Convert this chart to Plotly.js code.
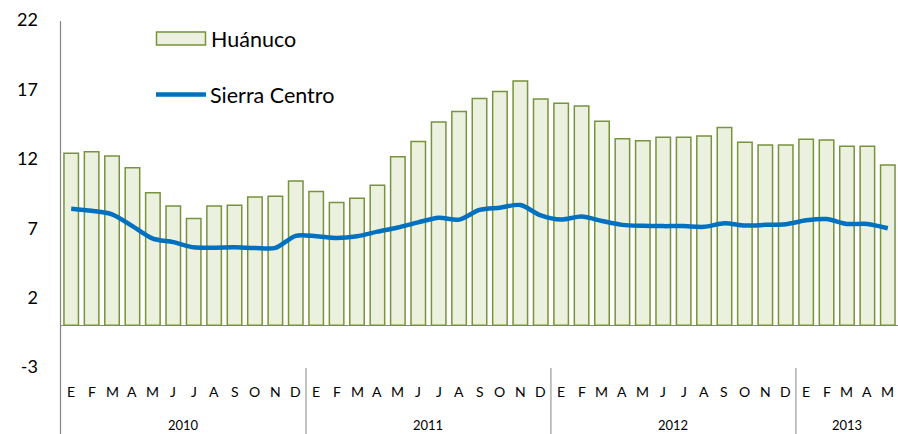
<!DOCTYPE html>
<html>
<head>
<meta charset="utf-8">
<script src="https://cdn.plot.ly/plotly-3.0.1.min.js"></script>
<style>html,body{margin:0;padding:0;background:#fff;}#chart{width:898px;height:434px;}</style>
</head>
<body>
<div id="chart"></div>
<script>
const monthLabels = ["E","F","M","A","M","J","J","A","S","O","N","D",
                     "E","F","M","A","M","J","J","A","S","O","N","D",
                     "E","F","M","A","M","J","J","A","S","O","N","D",
                     "E","F","M","A","M"];
const years = ["2010","2011","2012","2013"];
const monthsPerYear = [12, 12, 12, 5];
const huanuco = [12.4, 12.5, 12.2, 11.35, 9.55, 8.6, 7.7, 8.6, 8.65, 9.25, 9.3, 10.4,
                 9.65, 8.85, 9.15, 10.1, 12.15, 13.25, 14.65, 15.4, 16.35, 16.85, 17.6, 16.3,
                 16.0, 15.8, 14.7, 13.45, 13.3, 13.55, 13.55, 13.65, 14.25, 13.2, 13.0, 13.0,
                 13.4, 13.35, 12.9, 12.9, 11.55];
const sierraCentro = [8.4, 8.25, 8.0, 7.15, 6.25, 6.0, 5.62, 5.6, 5.62, 5.58, 5.58, 6.45,
                      6.42, 6.3, 6.42, 6.75, 7.05, 7.42, 7.75, 7.62, 8.32, 8.48, 8.67, 7.92,
                      7.62, 7.84, 7.52, 7.24, 7.17, 7.15, 7.15, 7.1, 7.35, 7.19, 7.24, 7.29,
                      7.57, 7.66, 7.31, 7.31, 7.0];
const yTicks = [-3, 2, 7, 12, 17, 22];

const xIdx = monthLabels.map((_, i) => i);

const traces = [
  {
    type: 'bar', name: 'Huánuco', x: xIdx, y: huanuco,
    marker: {color: '#EBF1DE', line: {color: '#77933C', width: 1.5}},
    hoverinfo: 'y'
  },
  {
    type: 'scatter', mode: 'lines', name: 'Sierra Centro', x: xIdx, y: sierraCentro,
    line: {color: '#0070C0', width: 4.5, shape: 'spline', smoothing: 0.8},
    hoverinfo: 'y'
  }
];

// plot area in px: x 61..898, y 20..367
const L = 61, T = 20, W = 837, H = 347;
const px = v => (v - L) / W;
const py = v => (T + H - v) / H;

const annotations = [];
const shapes = [];
monthLabels.forEach((m, i) => {
  annotations.push({xref: 'x', yref: 'paper', x: i, y: py(391), text: m, showarrow: false,
    xanchor: 'center', yanchor: 'middle', font: {family: 'Lato, sans-serif', size: 14, color: '#000'}});
});
let start = 0;
years.forEach((yr, k) => {
  const n = monthsPerYear[k];
  annotations.push({xref: 'x', yref: 'paper', x: start + (n - 1) / 2, y: py(425), text: yr, showarrow: false,
    xanchor: 'center', yanchor: 'middle', font: {family: 'Lato, sans-serif', size: 13, color: '#000'}});
  start += n;
  if (k < years.length - 1) {
    shapes.push({type: 'line', xref: 'x', yref: 'paper', x0: start - 0.5, x1: start - 0.5,
      y0: py(368), y1: py(434), line: {color: '#868686', width: 1}});
  }
});
// y axis line
shapes.push({type: 'line', xref: 'paper', yref: 'paper', x0: px(60.5), x1: px(60.5), y0: py(21), y1: py(434),
  line: {color: '#868686', width: 1.2}});
// manual legend
shapes.push({type: 'rect', xref: 'paper', yref: 'paper', x0: px(156.5), x1: px(205.5), y0: py(45), y1: py(32),
  fillcolor: '#EBF1DE', line: {color: '#77933C', width: 1.5}});
shapes.push({type: 'line', xref: 'paper', yref: 'paper', x0: px(156), x1: px(206), y0: py(94.5), y1: py(94.5),
  line: {color: '#0070C0', width: 4.5}});
annotations.push({xref: 'paper', yref: 'paper', x: px(209), y: py(38.5), text: 'Huánuco', showarrow: false,
  xanchor: 'left', yanchor: 'middle', font: {family: 'Lato, sans-serif', size: 21.5, color: '#000'}});
annotations.push({xref: 'paper', yref: 'paper', x: px(208), y: py(94.5), text: 'Sierra Centro', showarrow: false,
  xanchor: 'left', yanchor: 'middle', font: {family: 'Lato, sans-serif', size: 21.5, color: '#000'}});

const layout = {
  width: 898, height: 434,
  margin: {l: L, r: 898 - L - W, t: T, b: 434 - T - H, pad: 0},
  paper_bgcolor: '#fff', plot_bgcolor: '#fff',
  showlegend: false,
  bargap: 0.29,
  xaxis: {range: [-0.5, 40.5], showticklabels: false, showgrid: false, zeroline: false, showline: false, ticks: ''},
  yaxis: {range: [-3, 22], tickvals: yTicks, ticktext: yTicks.map(String), showgrid: false,
    zeroline: true, zerolinecolor: '#868686', zerolinewidth: 1.2, showline: false, ticks: '',
    ticklabelstandoff: 22,
    tickfont: {family: 'Lato, sans-serif', size: 18, color: '#000'}},
  shapes: shapes,
  annotations: annotations
};

Plotly.newPlot('chart', traces, layout, {displayModeBar: false, staticPlot: true});
</script>
</body>
</html>
